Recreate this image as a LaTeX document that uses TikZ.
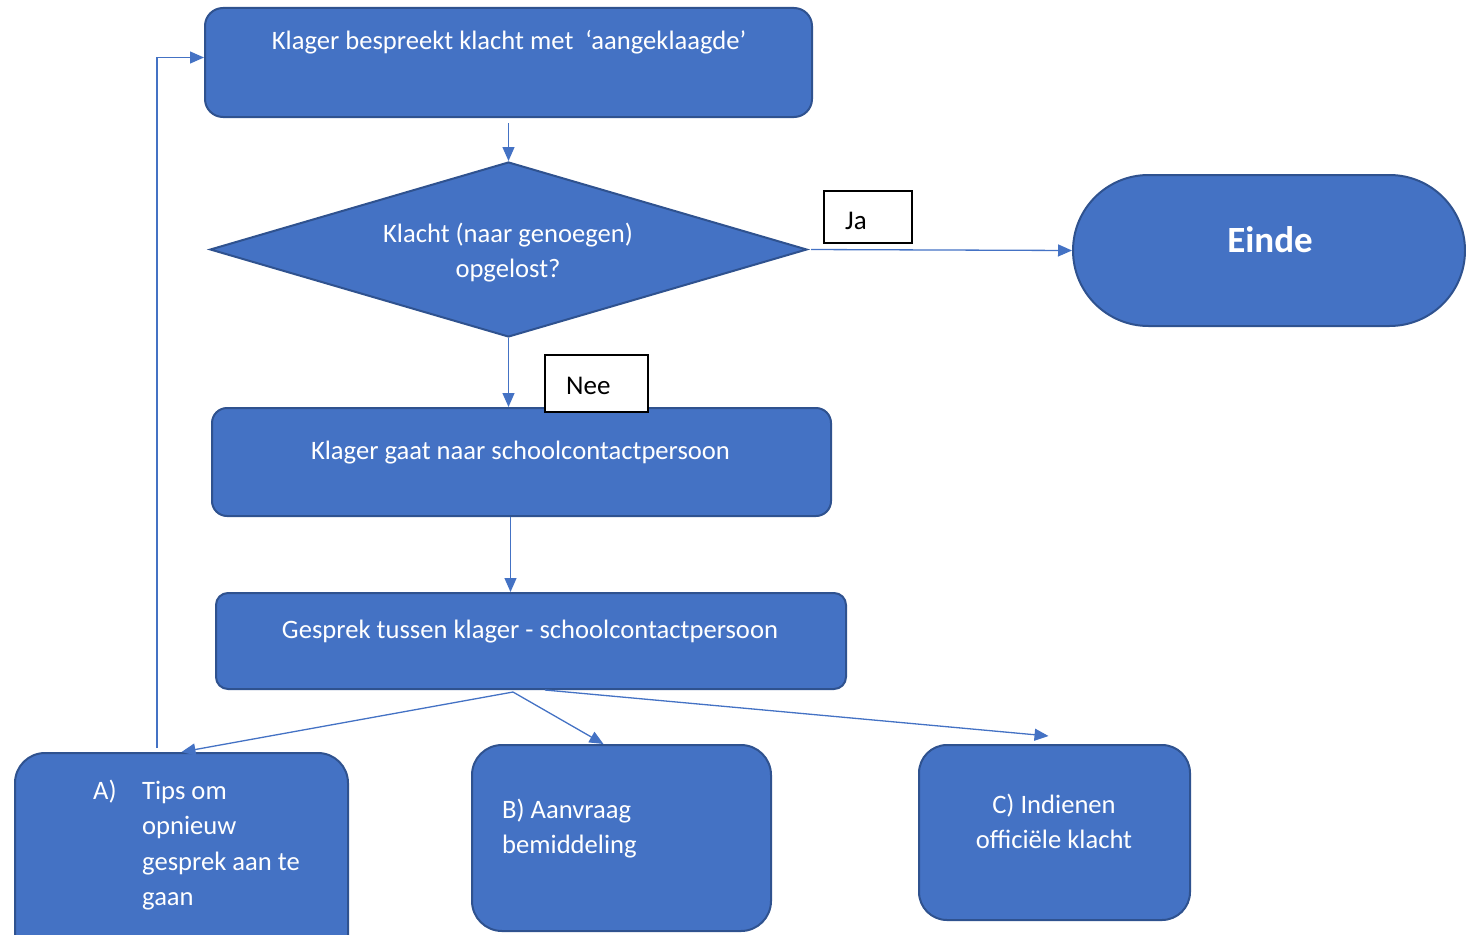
\documentclass[tikz,border=0pt]{standalone}
\usepackage{fontspec}
\setmainfont{Carlito}
\usetikzlibrary{shapes.geometric,arrows.meta,calc}
\definecolor{boxfill}{HTML}{4472C4}
\definecolor{boxline}{HTML}{2F528F}
\definecolor{arr}{HTML}{4472C4}
\tikzset{
  blk/.style={draw=boxline,fill=boxfill,line width=2pt,inner sep=0pt},
  wtxt/.style={text=white,font=\fontsize{26.6}{35.5}\selectfont,inner sep=0pt,anchor=base},
  lbl/.style={draw=black,fill=white,line width=2pt,inner sep=0pt},
  btxt/.style={text=black,font=\fontsize{27}{32}\selectfont,inner sep=0pt,anchor=base},
  conn/.style={draw=arr,line width=1.3pt,-{Triangle[length=14pt,width=12pt]}},
}
\begin{document}
\begin{tikzpicture}[x=1pt,y=-1pt]
\useasboundingbox (0,0) rectangle (1466,934);
% boxes
\node[blk,rounded corners=18pt,minimum width=607pt,minimum height=109pt] (b1) at (508.5,62.5) {};
\node[wtxt] (t1) at (509,50) {Klager bespreekt klacht met\ \ ‘aangeklaagde’};
\node[blk,shape=diamond,aspect=3.41,minimum width=597pt,minimum height=175pt] (dia) at (508.5,249.5) {};
\node[wtxt] (td1) at (508,242) {Klacht (naar genoegen)};
\node[wtxt] (td2) at (508,277) {opgelost?};
\node[blk,rounded corners=75.5pt,minimum width=392pt,minimum height=151pt] (einde) at (1269,250.5) {};
\node[text=white,font=\bfseries\fontsize{37}{40}\selectfont,inner sep=0pt,anchor=base] (te) at (1270,252) {Einde};
\node[blk,rounded corners=15pt,minimum width=619pt,minimum height=108pt] (b2) at (521.5,462) {};
\node[wtxt] (t2) at (520.5,459) {Klager gaat naar schoolcontactpersoon};
\node[blk,rounded corners=12pt,minimum width=630pt,minimum height=96pt] (b3) at (531,641) {};
\node[wtxt] (t3) at (530,638) {Gesprek tussen klager - schoolcontactpersoon};
\node[blk,rounded corners=30pt,minimum width=333pt,minimum height=220pt] (bA) at (181.5,863) {};
\node[wtxt,anchor=base west] (tA0) at (93,799) {A)};
\node[wtxt,anchor=base west] (tA1) at (142,799) {Tips om};
\node[wtxt,anchor=base west] (tA2) at (142,834) {opnieuw};
\node[wtxt,anchor=base west] (tA3) at (142,870) {gesprek aan te};
\node[wtxt,anchor=base west] (tA4) at (142,905) {gaan};
\node[blk,rounded corners=30pt,minimum width=299pt,minimum height=186pt] (bB) at (621.5,838) {};
\node[wtxt,anchor=base west] (tB1) at (502,818) {B) Aanvraag};
\node[wtxt,anchor=base west] (tB2) at (502,853) {bemiddeling};
\node[blk,rounded corners=28pt,minimum width=271pt,minimum height=175pt] (bC) at (1054.5,832.5) {};
\node[wtxt] (tC1) at (1054,813) {C) Indienen};
\node[wtxt] (tC2) at (1054,848) {officiële klacht};
% labels
\node[lbl,minimum width=88pt,minimum height=52pt] (ja) at (868,217) {};
\node[btxt,anchor=base west] (tja) at (845,229) {Ja};
\node[lbl,minimum width=103pt,minimum height=57pt] (nee) at (596.5,383.5) {};
\node[btxt,anchor=base west] (tnee) at (566,394) {Nee};
% connectors
\draw[conn,shorten <=5pt] (b1.south) -- (dia.north);
\draw[conn,shorten <=3pt] (dia.east) -- (einde.west);
\draw[conn] (dia.south) -- (dia.south |- b2.north);
\coordinate (s2) at ($(b2.south -| dia.south)+(2,0)$);
\draw[conn] (s2) -- (s2 |- b3.north);
\coordinate (fan) at ($(b3.south)+(-18,2)$);
\coordinate (fanC) at ($(b3.south)+(14,0)$);
\draw[conn] (fan) -- (bA.north);
\draw[conn] (fan) -- ($(bB.north)+(-18,0)$);
\draw[conn] (fanC) -- ($(bC.north)+(-6,-8)$);
\coordinate (fb) at (157,748);
\draw[conn] (fb) |- ($(b1.west)+(0,-5)$);
\end{tikzpicture}
\end{document}
